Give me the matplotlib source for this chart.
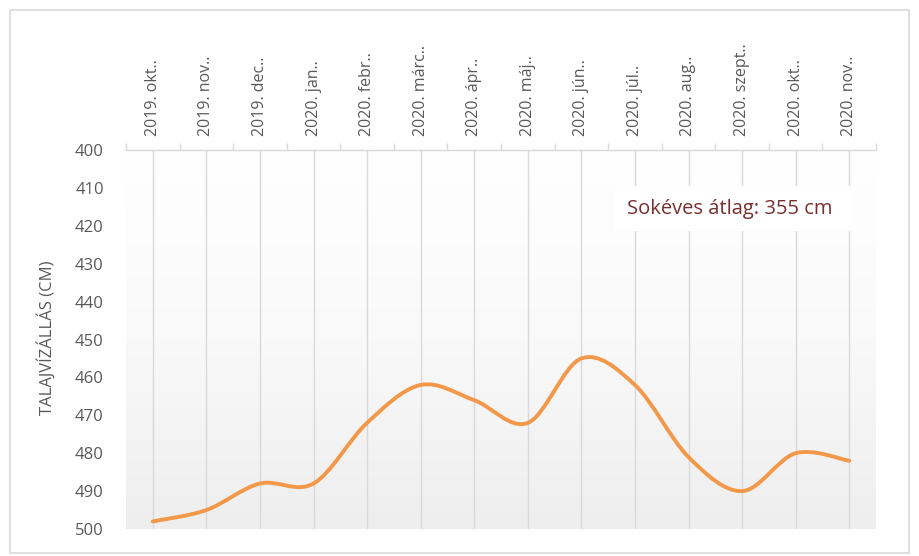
import matplotlib
matplotlib.use('Agg')
import matplotlib.pyplot as plt
import numpy as np
from matplotlib.path import Path
from matplotlib.patches import PathPatch, Rectangle

plt.rcParams['font.family'] = ['Open Sans', 'DejaVu Sans']

# data
months = ['2019. okt..', '2019. nov..', '2019. dec..', '2020. jan..', '2020. febr..',
          '2020. márc..', '2020. ápr..', '2020. máj..', '2020. jún..', '2020. júl..',
          '2020. aug..', '2020. szept..', '2020. okt..', '2020. nov..']
level_cm = [498, 495, 488, 488, 472, 462, 466, 472, 455, 462, 481, 490, 480, 482]
avg_label = 'Sokéves átlag: 355 cm'
y_label = 'TALAJVÍZÁLLÁS (CM)'

line_col = '#F39849'
grid_col = '#D9D9D9'
text_col = '#595959'


def smooth_path(xs, ys):
    # excel-like smoothed line: cubic bezier segments (catmull-rom, tension 1/6)
    pts = np.column_stack([xs, ys]).astype(float)
    n = len(pts)
    verts = [pts[0]]
    codes = [Path.MOVETO]
    for i in range(n - 1):
        p0 = pts[max(i - 1, 0)]
        p1 = pts[i]
        p2 = pts[i + 1]
        p3 = pts[min(i + 2, n - 1)]
        c1 = p1 + (p2 - p0) / 6.0
        c2 = p2 - (p3 - p1) / 6.0
        verts += [c1, c2, p2]
        codes += [Path.CURVE4] * 3
    return Path(verts, codes)


fig = plt.figure(figsize=(9.19, 5.56), dpi=100)
ax = fig.add_axes([126 / 919, 1 - 529 / 556, 750 / 919, 379 / 556])

x = np.arange(len(months))
ax.set_xlim(-0.5, len(months) - 0.5)

# gradient background of plot area
grad = np.linspace(0, 1, 256).reshape(-1, 1)
bg_cmap = matplotlib.colors.LinearSegmentedColormap.from_list('bg', ['#FFFFFF', '#F9F9F9', '#EEEEEE'])
ax.imshow(grad, extent=(-0.5, len(months) - 0.5, 500, 400), aspect='auto',
          cmap=bg_cmap, origin='upper', zorder=0, interpolation='bilinear')
ax.set_ylim(500, 400)

# vertical gridlines at the categories
for xi in x:
    ax.axvline(xi, color=grid_col, lw=1.0, zorder=1)

patch = PathPatch(smooth_path(x, level_cm), facecolor='none', edgecolor=line_col,
                  lw=2.8, capstyle='round', joinstyle='round', zorder=3)
ax.add_patch(patch)

# axis at top
ax.xaxis.tick_top()
ax.set_xticks(x)
ax.set_xticklabels(months, rotation=90, fontsize=11.5, color=text_col)
ax.set_xticks(np.arange(-0.5, len(months)), minor=True)
ax.tick_params(axis='x', which='major', length=0, pad=10)
ax.tick_params(axis='x', which='minor', length=5, color=grid_col, width=1.0, top=True, bottom=False)
ax.set_yticks(np.arange(400, 501, 10))
ax.tick_params(axis='y', length=0, pad=16, labelsize=12, labelcolor=text_col)
for s in ['left', 'right', 'bottom']:
    ax.spines[s].set_visible(False)
ax.spines['top'].set_color(grid_col)
ax.spines['top'].set_linewidth(1.0)

# average text box (white box hides the gridlines behind it)
ax.add_patch(Rectangle((0.652, 0.786), 0.32, 0.119, transform=ax.transAxes,
                       facecolor='white', edgecolor='none', zorder=4))
ax.text(0.805, 0.845, avg_label, transform=ax.transAxes, ha='center', va='center',
        fontsize=14.5, color='#772F2F', zorder=5)

fig.text(47 / 919, 1 - 338 / 556, y_label, rotation=90, ha='center', va='center',
         fontsize=12, color=text_col)

# outer chart border
fig.patches.append(Rectangle((10 / 919, 3 / 556), 899 / 919, 543 / 556, transform=fig.transFigure,
                             facecolor='none', edgecolor='#D9D9D9', lw=1.2))

fig.savefig('out.png', dpi=100)
